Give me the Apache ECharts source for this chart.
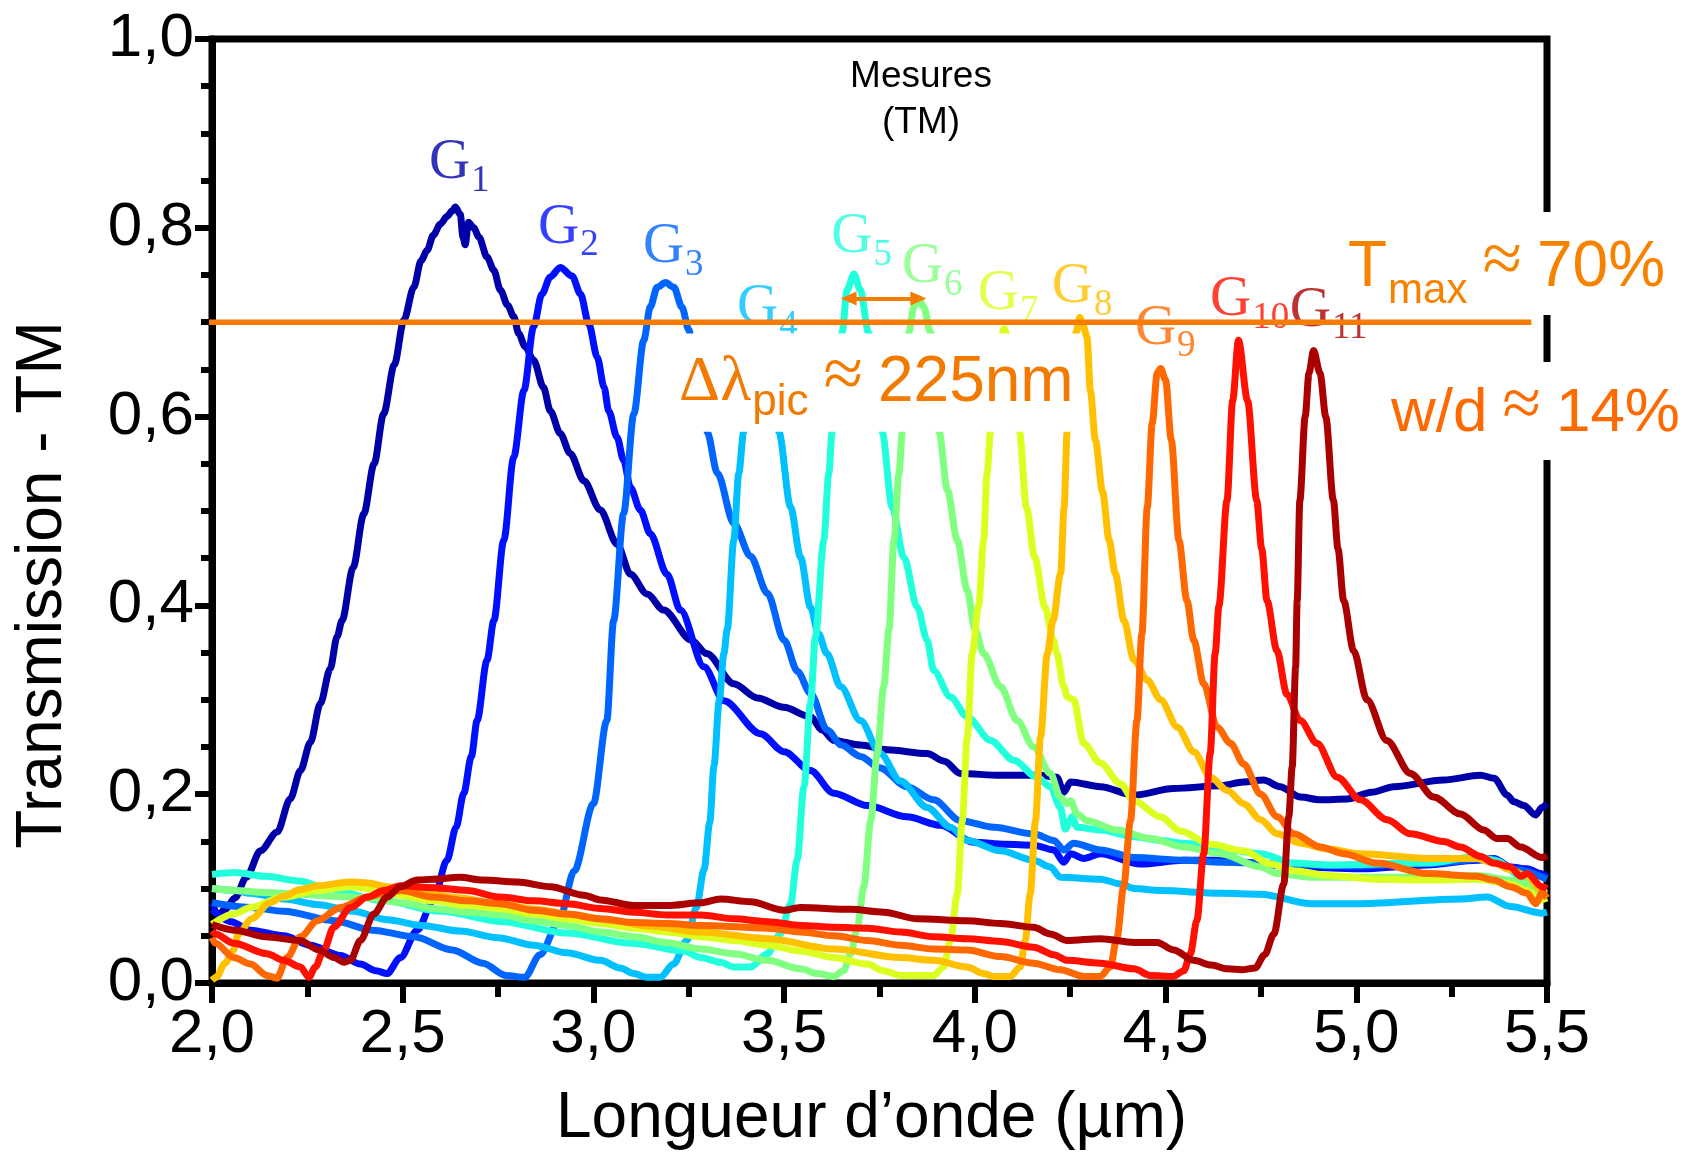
<!DOCTYPE html>
<html>
<head>
    <meta charset="utf-8">
    <script src="https://cdn.jsdelivr.net/npm/echarts@6/dist/echarts.min.js"></script>
    <style>html, body { margin: 0; padding: 0; background: #fff; }</style>
</head>
<body>
    <div id="main" style="width: 1684px; height: 1152px;"></div>
    <script type="text/javascript">
        // mesures de transmission TM, une courbe par reseau G1..G11
        var g1 = [[2.0,0.085],[2.015,0.072],[2.035,0.078],[2.06,0.09],[2.09,0.112],[2.127,0.14],[2.171,0.16],[2.205,0.195],[2.232,0.225],[2.258,0.255],[2.284,0.296],[2.31,0.333],[2.328,0.367],[2.341,0.384],[2.37,0.44],[2.398,0.497],[2.425,0.55],[2.45,0.603],[2.478,0.655],[2.503,0.702],[2.529,0.737],[2.548,0.765],[2.564,0.776],[2.58,0.792],[2.599,0.804],[2.616,0.812],[2.63,0.818],[2.638,0.822],[2.651,0.814],[2.658,0.79],[2.664,0.782],[2.672,0.806],[2.686,0.8],[2.70,0.79],[2.721,0.769],[2.739,0.755],[2.756,0.734],[2.775,0.718],[2.791,0.706],[2.804,0.688],[2.821,0.674],[2.843,0.660],[2.869,0.631],[2.887,0.606],[2.913,0.582],[2.939,0.561],[2.975,0.532],[3.018,0.501],[3.062,0.465],[3.097,0.433],[3.141,0.412],[3.184,0.395],[3.257,0.363],[3.297,0.349],[3.368,0.317],[3.43,0.302],[3.499,0.292],[3.569,0.282],[3.60,0.268],[3.630,0.257],[3.700,0.252],[3.770,0.247],[3.875,0.243],[3.92,0.235],[3.962,0.222],[4.067,0.220],[4.172,0.220],[4.215,0.218],[4.233,0.202],[4.251,0.213],[4.329,0.208],[4.417,0.199],[4.521,0.206],[4.644,0.209],[4.705,0.213],[4.757,0.215],[4.80,0.208],[4.854,0.197],[4.906,0.194],[4.976,0.195],[5.04,0.202],[5.098,0.208],[5.229,0.215],[5.326,0.220],[5.361,0.217],[5.396,0.199],[5.413,0.192],[5.439,0.188],[5.470,0.178],[5.487,0.186],[5.5,0.19]];
        var g2 = [[2.0,0.078],[2.05,0.065],[2.101,0.056],[2.188,0.05],[2.258,0.040],[2.337,0.029],[2.389,0.020],[2.43,0.013],[2.459,0.010],[2.494,0.027],[2.538,0.056],[2.581,0.088],[2.616,0.130],[2.640,0.165],[2.660,0.201],[2.680,0.24],[2.695,0.278],[2.721,0.342],[2.739,0.384],[2.765,0.469],[2.791,0.557],[2.818,0.628],[2.843,0.695],[2.865,0.730],[2.887,0.748],[2.913,0.758],[2.944,0.749],[2.966,0.730],[2.988,0.698],[3.010,0.663],[3.028,0.631],[3.040,0.606],[3.062,0.578],[3.079,0.554],[3.097,0.525],[3.123,0.501],[3.149,0.476],[3.193,0.433],[3.228,0.395],[3.29,0.335],[3.342,0.299],[3.438,0.264],[3.50,0.245],[3.569,0.225],[3.630,0.201],[3.718,0.188],[3.822,0.176],[3.910,0.167],[3.997,0.149],[4.08,0.147],[4.154,0.146],[4.207,0.141],[4.233,0.128],[4.251,0.137],[4.286,0.132],[4.329,0.137],[4.434,0.126],[4.548,0.130],[4.644,0.130],[4.705,0.128],[4.836,0.123],[5.010,0.121],[5.186,0.125],[5.317,0.130],[5.361,0.132],[5.404,0.123],[5.448,0.121],[5.483,0.116],[5.5,0.112]];
        var g3 = [[2.0,0.085],[2.10,0.08],[2.188,0.076],[2.32,0.066],[2.42,0.056],[2.53,0.049],[2.63,0.035],[2.71,0.021],[2.77,0.008],[2.82,0.006],[2.86,0.03],[2.91,0.066],[2.95,0.119],[3.00,0.19],[3.035,0.278],[3.053,0.384],[3.079,0.497],[3.106,0.603],[3.132,0.681],[3.149,0.716],[3.167,0.737],[3.189,0.742],[3.211,0.737],[3.232,0.716],[3.250,0.692],[3.268,0.645],[3.285,0.61],[3.298,0.584],[3.325,0.540],[3.368,0.487],[3.412,0.452],[3.456,0.413],[3.50,0.363],[3.535,0.33],[3.569,0.307],[3.613,0.268],[3.65,0.252],[3.70,0.240],[3.75,0.228],[3.822,0.208],[3.892,0.194],[3.962,0.172],[4.050,0.165],[4.154,0.158],[4.207,0.151],[4.233,0.141],[4.259,0.148],[4.329,0.141],[4.417,0.133],[4.55,0.130],[4.65,0.128],[4.80,0.126],[5.0,0.124],[5.2,0.127],[5.35,0.132],[5.42,0.12],[5.5,0.11]];
        var g4 = [[2.0,0.10],[2.06,0.098],[2.10,0.095],[2.19,0.089],[2.28,0.083],[2.37,0.076],[2.46,0.067],[2.55,0.061],[2.65,0.055],[2.75,0.048],[2.843,0.040],[2.93,0.032],[3.018,0.024],[3.07,0.016],[3.106,0.010],[3.14,0.006],[3.175,0.006],[3.21,0.02],[3.245,0.045],[3.27,0.08],[3.29,0.12],[3.305,0.17],[3.316,0.23],[3.33,0.30],[3.342,0.349],[3.351,0.375],[3.368,0.469],[3.381,0.540],[3.394,0.584],[3.41,0.63],[3.43,0.665],[3.445,0.672],[3.46,0.66],[3.475,0.625],[3.486,0.584],[3.517,0.504],[3.543,0.451],[3.569,0.398],[3.59,0.37],[3.612,0.349],[3.648,0.314],[3.700,0.278],[3.752,0.243],[3.805,0.214],[3.875,0.186],[3.936,0.165],[3.980,0.151],[4.067,0.140],[4.154,0.130],[4.198,0.123],[4.224,0.112],[4.329,0.110],[4.382,0.105],[4.417,0.100],[4.487,0.098],[4.644,0.095],[4.749,0.094],[4.880,0.084],[5.011,0.084],[5.273,0.089],[5.343,0.091],[5.404,0.081],[5.487,0.074],[5.5,0.075]];
        var g5 = [[2.0,0.115],[2.06,0.117],[2.14,0.113],[2.23,0.108],[2.30,0.10],[2.45,0.087],[2.60,0.076],[2.76,0.065],[2.93,0.053],[3.10,0.042],[3.237,0.034],[3.281,0.027],[3.333,0.022],[3.368,0.017],[3.412,0.017],[3.456,0.031],[3.49,0.052],[3.517,0.084],[3.534,0.130],[3.552,0.208],[3.569,0.296],[3.582,0.367],[3.604,0.469],[3.617,0.540],[3.626,0.584],[3.640,0.64],[3.652,0.689],[3.665,0.734],[3.683,0.751],[3.700,0.734],[3.721,0.689],[3.74,0.64],[3.757,0.584],[3.783,0.504],[3.814,0.451],[3.849,0.398],[3.875,0.363],[3.892,0.331],[3.936,0.303],[3.980,0.282],[4.041,0.257],[4.102,0.236],[4.163,0.218],[4.198,0.208],[4.224,0.186],[4.237,0.163],[4.255,0.176],[4.268,0.165],[4.329,0.162],[4.417,0.155],[4.487,0.151],[4.548,0.148],[4.662,0.141],[4.749,0.137],[4.836,0.127],[4.924,0.125],[5.186,0.127],[5.317,0.134],[5.361,0.130],[5.448,0.109],[5.487,0.099],[5.5,0.1]];
        var g6 = [[2.0,0.10],[2.06,0.098],[2.14,0.096],[2.23,0.094],[2.32,0.092],[2.41,0.090],[2.50,0.085],[2.58,0.079],[2.67,0.075],[2.76,0.072],[2.84,0.066],[2.93,0.061],[3.02,0.054],[3.11,0.049],[3.19,0.043],[3.281,0.036],[3.368,0.031],[3.456,0.024],[3.543,0.015],[3.587,0.010],[3.630,0.007],[3.656,0.013],[3.674,0.031],[3.692,0.059],[3.709,0.102],[3.727,0.172],[3.744,0.243],[3.761,0.314],[3.775,0.375],[3.788,0.469],[3.801,0.540],[3.810,0.584],[3.82,0.65],[3.827,0.689],[3.840,0.716],[3.853,0.725],[3.866,0.716],[3.884,0.689],[3.895,0.64],[3.906,0.584],[3.928,0.522],[3.954,0.469],[3.980,0.416],[4.0,0.375],[4.023,0.349],[4.067,0.314],[4.111,0.278],[4.154,0.250],[4.198,0.222],[4.224,0.197],[4.242,0.190],[4.251,0.193],[4.268,0.179],[4.294,0.172],[4.373,0.162],[4.460,0.153],[4.548,0.144],[4.644,0.137],[4.749,0.123],[4.793,0.116],[4.880,0.112],[5.011,0.112],[5.186,0.112],[5.317,0.114],[5.404,0.109],[5.448,0.105],[5.487,0.095],[5.5,0.095]];
        var g7 = [[2.0,0.062],[2.057,0.073],[2.101,0.080],[2.188,0.091],[2.276,0.098],[2.363,0.102],[2.450,0.098],[2.494,0.093],[2.581,0.087],[2.669,0.082],[2.756,0.079],[2.843,0.073],[2.931,0.068],[3.018,0.063],[3.106,0.058],[3.193,0.054],[3.281,0.049],[3.368,0.045],[3.456,0.040],[3.543,0.034],[3.630,0.027],[3.718,0.020],[3.761,0.013],[3.805,0.008],[3.892,0.008],[3.918,0.017],[3.936,0.045],[3.954,0.094],[3.967,0.172],[3.980,0.260],[3.993,0.349],[4.010,0.40],[4.023,0.469],[4.032,0.540],[4.041,0.584],[4.055,0.64],[4.068,0.682],[4.077,0.693],[4.088,0.682],[4.10,0.64],[4.117,0.584],[4.135,0.504],[4.157,0.451],[4.184,0.398],[4.206,0.363],[4.215,0.349],[4.233,0.314],[4.242,0.303],[4.259,0.300],[4.285,0.254],[4.329,0.233],[4.382,0.211],[4.417,0.193],[4.487,0.176],[4.539,0.161],[4.618,0.147],[4.705,0.140],[4.775,0.126],[4.836,0.119],[4.924,0.114],[5.054,0.110],[5.186,0.109],[5.317,0.110],[5.404,0.105],[5.448,0.098],[5.483,0.088],[5.5,0.09]];
        var g8 = [[2.0,0.003],[2.011,0.006],[2.034,0.021],[2.057,0.035],[2.069,0.052],[2.104,0.068],[2.151,0.085],[2.188,0.092],[2.232,0.099],[2.276,0.103],[2.363,0.107],[2.409,0.106],[2.459,0.102],[2.55,0.096],[2.65,0.090],[2.75,0.084],[2.85,0.078],[2.95,0.072],[3.05,0.066],[3.15,0.060],[3.281,0.054],[3.456,0.047],[3.630,0.036],[3.805,0.027],[3.892,0.024],[3.980,0.017],[4.023,0.010],[4.05,0.007],[4.093,0.007],[4.119,0.017],[4.132,0.045],[4.145,0.094],[4.159,0.172],[4.172,0.260],[4.19,0.349],[4.205,0.384],[4.225,0.434],[4.234,0.504],[4.242,0.584],[4.255,0.65],[4.266,0.69],[4.275,0.705],[4.285,0.695],[4.294,0.684],[4.303,0.627],[4.316,0.575],[4.335,0.52],[4.352,0.469],[4.368,0.434],[4.391,0.384],[4.417,0.342],[4.452,0.321],[4.487,0.300],[4.531,0.271],[4.574,0.245],[4.618,0.218],[4.662,0.204],[4.705,0.190],[4.749,0.173],[4.793,0.158],[4.854,0.148],[4.924,0.142],[5.011,0.137],[5.186,0.132],[5.317,0.132],[5.361,0.127],[5.404,0.120],[5.448,0.113],[5.483,0.099],[5.5,0.10]];
        var g9 = [[2.0,0.048],[2.009,0.042],[2.057,0.027],[2.101,0.020],[2.144,0.008],[2.17,0.005],[2.197,0.027],[2.232,0.049],[2.276,0.066],[2.337,0.080],[2.407,0.091],[2.459,0.096],[2.494,0.098],[2.581,0.091],[2.669,0.087],[2.756,0.084],[2.843,0.077],[2.931,0.073],[3.018,0.068],[3.106,0.064],[3.193,0.063],[3.281,0.061],[3.456,0.058],[3.543,0.054],[3.630,0.050],[3.718,0.045],[3.805,0.040],[3.892,0.036],[3.980,0.035],[4.067,0.028],[4.154,0.021],[4.224,0.014],[4.285,0.007],[4.329,0.007],[4.355,0.017],[4.373,0.049],[4.390,0.102],[4.408,0.172],[4.425,0.278],[4.438,0.37],[4.452,0.504],[4.465,0.593],[4.478,0.646],[4.487,0.651],[4.500,0.639],[4.515,0.575],[4.535,0.469],[4.556,0.405],[4.574,0.363],[4.600,0.317],[4.635,0.271],[4.670,0.254],[4.705,0.232],[4.749,0.200],[4.793,0.176],[4.836,0.158],[4.906,0.144],[4.967,0.137],[5.054,0.127],[5.186,0.116],[5.317,0.113],[5.361,0.109],[5.404,0.102],[5.448,0.095],[5.470,0.084],[5.487,0.095],[5.5,0.09]];
        var g10 = [[2.0,0.055],[2.009,0.052],[2.057,0.042],[2.144,0.031],[2.188,0.024],[2.232,0.017],[2.254,0.006],[2.271,0.017],[2.293,0.035],[2.319,0.059],[2.363,0.080],[2.407,0.091],[2.450,0.098],[2.494,0.103],[2.581,0.101],[2.669,0.098],[2.756,0.091],[2.843,0.087],[2.931,0.084],[3.018,0.079],[3.106,0.075],[3.193,0.072],[3.281,0.072],[3.368,0.068],[3.456,0.065],[3.543,0.061],[3.630,0.059],[3.718,0.058],[3.805,0.054],[3.892,0.049],[3.980,0.047],[4.067,0.044],[4.154,0.038],[4.207,0.030],[4.242,0.024],[4.329,0.021],[4.417,0.015],[4.46,0.008],[4.52,0.007],[4.548,0.013],[4.565,0.031],[4.582,0.066],[4.600,0.137],[4.617,0.243],[4.630,0.349],[4.640,0.40],[4.661,0.511],[4.676,0.617],[4.691,0.681],[4.715,0.617],[4.739,0.511],[4.752,0.46],[4.766,0.405],[4.792,0.352],[4.818,0.306],[4.853,0.278],[4.897,0.254],[4.950,0.218],[5.011,0.194],[5.081,0.173],[5.142,0.158],[5.229,0.150],[5.273,0.144],[5.326,0.134],[5.361,0.127],[5.404,0.123],[5.431,0.113],[5.448,0.116],[5.487,0.102],[5.5,0.10]];
        var g11 = [[2.0,0.062],[2.06,0.056],[2.14,0.049],[2.23,0.045],[2.28,0.035],[2.32,0.027],[2.346,0.022],[2.363,0.024],[2.389,0.045],[2.424,0.073],[2.459,0.091],[2.494,0.102],[2.538,0.109],[2.58,0.110],[2.65,0.112],[2.71,0.109],[2.80,0.107],[2.887,0.102],[2.975,0.093],[3.018,0.088],[3.106,0.082],[3.193,0.082],[3.281,0.085],[3.333,0.089],[3.412,0.086],[3.499,0.077],[3.543,0.080],[3.674,0.078],[3.761,0.075],[3.849,0.068],[3.980,0.066],[4.067,0.063],[4.154,0.059],[4.198,0.052],[4.242,0.045],[4.329,0.047],[4.417,0.043],[4.478,0.043],[4.521,0.035],[4.574,0.024],[4.62,0.019],[4.662,0.015],[4.70,0.014],[4.735,0.016],[4.76,0.03],[4.784,0.052],[4.810,0.105],[4.823,0.176],[4.832,0.229],[4.841,0.335],[4.845,0.405],[4.852,0.511],[4.866,0.600],[4.876,0.646],[4.888,0.670],[4.905,0.646],[4.920,0.600],[4.940,0.511],[4.952,0.46],[4.967,0.405],[4.993,0.352],[5.028,0.300],[5.080,0.257],[5.142,0.222],[5.203,0.197],[5.273,0.179],[5.334,0.162],[5.369,0.153],[5.396,0.153],[5.431,0.144],[5.487,0.133],[5.5,0.135]];

        var curves = [g1, g2, g3, g4, g5, g6, g7, g8, g9, g10, g11];
        var curveColors = ['#0000a8', '#0010ff', '#0064ff', '#00c0ff', '#22ffdc', '#80ff80',
                           '#dcff22', '#ffc000', '#ff6800', '#ff1000', '#aa0000'];

        // etiquettes G_n : coin gauche / ligne de base du "G"
        var labelNums = ['1', '2', '3', '4', '5', '6', '7', '8', '9', '10', '11'];
        var labelAt = [[2.570,0.847],[2.856,0.779],[3.131,0.758],[3.378,0.694],[3.625,0.769],[3.810,0.737],
                       [4.009,0.709],[4.203,0.716],[4.421,0.672],[4.618,0.702],[4.827,0.691]];

        var tmax = 0.70;
        var tmaxLine = [[1.967, tmax], [5.459, tmax]];
        var peakArrow = [[3.669, 0.725], [3.852, 0.725]];
        var hideBox = [3.215, 0.584, 4.28, 0.688];   // zone blanche sous le texte

        var xTickLabels = ['2,0', '2,5', '3,0', '3,5', '4,0', '4,5', '5,0', '5,5'];
        var yTickLabels = ['0,0', '0,2', '0,4', '0,6', '0,8', '1,0'];

        var sans = '"Liberation Sans", Arial, sans-serif';
        var serif = '"Liberation Serif", "Times New Roman", serif';
        var orange = '#f57c00';

        var series = [];
        curves.forEach(function (d, i) {
            series.push({
                type: 'line', name: 'G' + labelNums[i], data: d,
                showSymbol: false, symbol: 'none', smooth: 0.3, smoothMonotone: 'x',
                lineStyle: { width: 7, color: curveColors[i] },
                z: 2, silent: true
            });
        });

        series.push({
            type: 'scatter', z: 3, silent: true, symbolSize: 1,
            itemStyle: { color: 'rgba(0,0,0,0)' },
            label: { show: true, position: [0, 0], align: 'left', verticalAlign: 'top', offset: [0, -48],
                     textBorderWidth: 0, textShadowBlur: 0 },
            data: labelAt.map(function (p, i) {
                var c = curveColors[i];
                return {
                    value: p,
                    label: {
                        formatter: '{g|G}{s|' + labelNums[i] + '}',
                        rich: {
                            g: { fontFamily: serif, fontSize: 57, color: c, verticalAlign: 'top', textBorderWidth: 0 },
                            s: { fontFamily: serif, fontSize: 37, color: c, verticalAlign: 'top', textBorderWidth: 0,
                                 padding: [28, 0, 0, 1] }
                        }
                    }
                };
            })
        });

        series.push({
            type: 'line', data: tmaxLine, clip: false, z: 4, silent: true,
            showSymbol: false, symbol: 'none',
            lineStyle: { width: 5.5, color: orange },
            markLine: {
                silent: true, animation: false,
                symbol: ['triangle', 'triangle'], symbolSize: [14, 16],
                label: { show: false },
                lineStyle: { color: orange, width: 4, type: 'solid' },
                data: [[{ coord: peakArrow[0] }, { coord: peakArrow[1] }]]
            }
        });

        series.push({
            type: 'custom', z: 5, silent: true,
            data: [hideBox],
            renderItem: function (params, api) {
                var a = api.coord([api.value(0), api.value(3)]);
                var b = api.coord([api.value(2), api.value(1)]);
                return {
                    type: 'rect',
                    shape: { x: a[0], y: a[1], width: b[0] - a[0], height: b[1] - a[1] },
                    style: { fill: '#fff' }
                };
            }
        });

        // texte orange : "≈" un peu plus grand, espaces en sans-serif
        function annot(color, size, subSize, subPad, approxSize, approxPad) {
            return {
                t: { fontFamily: sans, fontSize: size, fill: color, verticalAlign: 'top', padding: [14, 0, 0, 0] },
                d: { fontFamily: serif, fontSize: size, fill: color, verticalAlign: 'top', padding: [14, 0, 0, 0] },
                s: { fontFamily: sans, fontSize: subSize, fill: color, verticalAlign: 'top', padding: [subPad, 0, 0, 1] },
                w: { fontFamily: sans, fontSize: 54, fill: color, verticalAlign: 'top', padding: [14, 0, 0, 0] },
                a: { fontFamily: serif, fontSize: approxSize, fill: color, verticalAlign: 'top', padding: [approxPad, 0, 0, 0] }
            };
        }

        var myChart = echarts.init(document.getElementById('main'));
        myChart.setOption({
            animation: false,
            grid: { left: 212, right: 137, top: 39, bottom: 169, show: true,
                    borderColor: '#000', borderWidth: 7, outerBoundsMode: 'none' },
            xAxis: {
                type: 'value', min: 2, max: 5.5, interval: 0.5,
                axisLine: { show: true, onZero: false, lineStyle: { color: '#000', width: 7 } },
                axisTick: { show: true, length: 20, lineStyle: { color: '#000', width: 6 } },
                minorTick: { show: true, splitNumber: 2, length: 14, lineStyle: { color: '#000', width: 6 } },
                splitLine: { show: false },
                axisLabel: { margin: 21, fontSize: 62, fontFamily: sans, color: '#000',
                             formatter: function (v, i) { return xTickLabels[i]; } },
                name: 'Longueur d\u2019onde (\u00b5m)', nameLocation: 'middle', nameGap: 104,
                nameTextStyle: { fontSize: 64, fontFamily: sans, color: '#000', padding: [0, 16, 0, 0] }
            },
            yAxis: {
                type: 'value', min: 0, max: 1, interval: 0.2,
                axisLine: { show: true, onZero: false, lineStyle: { color: '#000', width: 7 } },
                axisTick: { show: true, length: 17, lineStyle: { color: '#000', width: 6 } },
                minorTick: { show: true, splitNumber: 4, length: 11, lineStyle: { color: '#000', width: 6 } },
                splitLine: { show: false },
                axisLabel: { margin: 18, fontSize: 62, fontFamily: sans, color: '#000',
                             formatter: function (v, i) { return yTickLabels[i]; } }
            },
            graphic: [
                { type: 'rect', z: 100, silent: true, shape: { x: 1536, y: 212, width: 22, height: 103 }, style: { fill: '#fff' } },
                { type: 'rect', z: 100, silent: true, shape: { x: 1536, y: 362, width: 22, height: 98 }, style: { fill: '#fff' } },
                {
                    type: 'text', z: 101, silent: true, x: 43, y: 585, rotation: Math.PI / 2,
                    style: { text: 'Transmission - TM', fontFamily: sans, fontSize: 64, fill: '#000',
                             align: 'center', verticalAlign: 'middle', textAlign: 'center', textVerticalAlign: 'middle' }
                },
                {
                    type: 'text', z: 101, silent: true, x: 921, y: 54,
                    style: { text: 'Mesures\n(TM)', fontFamily: sans, fontSize: 37, lineHeight: 46,
                             fill: '#000', align: 'center', verticalAlign: 'top',
                             textAlign: 'center', textVerticalAlign: 'top' }
                },
                {
                    type: 'text', z: 101, silent: true, x: 1348, y: 222,
                    style: {
                        text: '{t|T}{s|max}{w| }{a|\u2248}{w| }{t|70%}',
                        align: 'left', verticalAlign: 'top', textAlign: 'left', textVerticalAlign: 'top',
                        rich: annot('#f78200', 64, 42, 48, 72, 5)
                    }
                },
                {
                    type: 'text', z: 101, silent: true, x: 1391, y: 369,
                    style: {
                        text: '{t|w/d}{w| }{a|\u2248}{w| }{t|14%}',
                        align: 'left', verticalAlign: 'top', textAlign: 'left', textVerticalAlign: 'top',
                        rich: annot('#ff6a00', 62, 42, 48, 70, 4)
                    }
                },
                {
                    type: 'text', z: 101, silent: true, x: 679, y: 337,
                    style: {
                        text: '{d|\u0394\u03bb}{s|pic}{w| }{a|\u2248}{w| }{t|225nm}',
                        align: 'left', verticalAlign: 'top', textAlign: 'left', textVerticalAlign: 'top',
                        rich: annot('#f27a00', 64, 44, 44, 72, 5)
                    }
                }
            ],
            series: series
        });
    </script>
</body>
</html>
